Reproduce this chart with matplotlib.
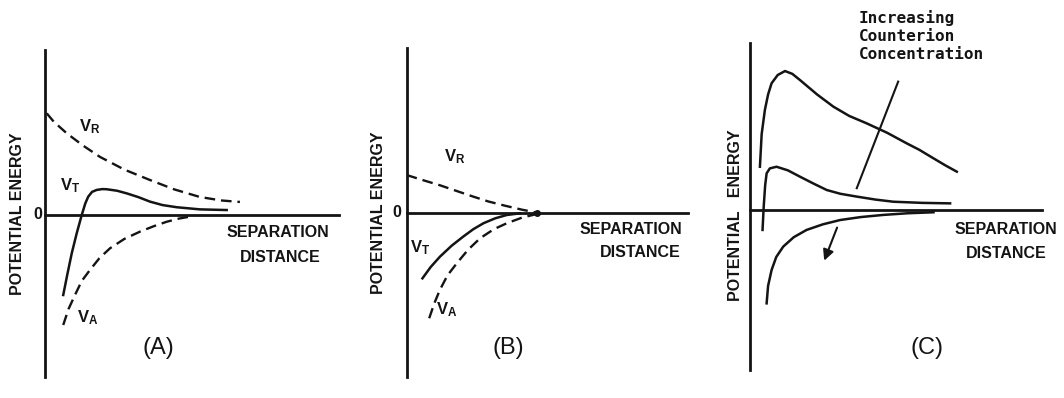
import matplotlib.pyplot as plt

plt.rcParams['font.family'] = ['Liberation Sans', 'DejaVu Sans']
plt.rcParams['mathtext.fontset'] = 'custom'
plt.rcParams['mathtext.rm'] = 'Liberation Sans:bold'
plt.rcParams['mathtext.it'] = 'Liberation Sans:bold'
plt.rcParams['mathtext.bf'] = 'Liberation Sans:bold'

INK = '#141414'

# --- panel A: repulsion, attraction and total energy ---
a_vr_x = [0.006, 0.03, 0.074, 0.13, 0.187, 0.27, 0.357, 0.44, 0.527, 0.60, 0.663]
a_vr_y = [0.616, 0.565, 0.495, 0.42, 0.352, 0.275, 0.212, 0.155, 0.109, 0.088, 0.079]

a_vt_x = [0.062, 0.076, 0.091, 0.108, 0.125, 0.137, 0.147, 0.160, 0.176, 0.195, 0.210, 0.245,
          0.278, 0.318, 0.357, 0.40, 0.448, 0.527, 0.618]
a_vt_y = [-0.485, -0.36, -0.232, -0.11, 0.0, 0.07, 0.111, 0.140, 0.152, 0.157, 0.156, 0.147,
          0.131, 0.108, 0.081, 0.060, 0.047, 0.034, 0.030]

a_va_x = [0.062, 0.08, 0.102, 0.125, 0.153, 0.185, 0.221, 0.27, 0.323, 0.37, 0.414, 0.455, 0.493]
a_va_y = [-0.667, -0.57, -0.485, -0.40, -0.333, -0.262, -0.202, -0.145, -0.101, -0.068, -0.041, -0.022, -0.010]

# --- panel B: no energy barrier ---
b_vr_x = [0.0, 0.06, 0.12, 0.18, 0.237, 0.29, 0.35, 0.41, 0.463]
b_vr_y = [0.228, 0.196, 0.165, 0.130, 0.097, 0.068, 0.042, 0.018, 0.0]

b_vt_x = [0.056, 0.085, 0.118, 0.16, 0.201, 0.237, 0.273, 0.315, 0.356, 0.403]
b_vt_y = [-0.398, -0.33, -0.267, -0.20, -0.145, -0.100, -0.064, -0.034, -0.014, -0.004]

b_va_x = [0.080, 0.098, 0.118, 0.145, 0.178, 0.218, 0.261, 0.31, 0.356, 0.41, 0.463]
b_va_y = [-0.640, -0.55, -0.468, -0.38, -0.307, -0.225, -0.155, -0.100, -0.064, -0.030, -0.008]

# --- panel C: effect of counterion concentration ---
c_low_x = [0.034, 0.040, 0.051, 0.062, 0.074, 0.095, 0.120, 0.145, 0.171, 0.23, 0.286, 0.34,
           0.400, 0.47, 0.537, 0.58, 0.629, 0.67, 0.709]
c_low_y = [0.262, 0.46, 0.606, 0.70, 0.768, 0.818, 0.842, 0.825, 0.788, 0.70, 0.626, 0.570,
           0.525, 0.468, 0.404, 0.365, 0.313, 0.270, 0.232]

c_mid_x = [0.043, 0.047, 0.052, 0.057, 0.068, 0.091, 0.13, 0.171, 0.22, 0.263, 0.31, 0.366,
           0.43, 0.491, 0.59, 0.686]
c_mid_y = [-0.121, 0.02, 0.15, 0.222, 0.252, 0.262, 0.240, 0.202, 0.158, 0.121, 0.098, 0.081,
           0.063, 0.050, 0.043, 0.040]

c_high_x = [0.057, 0.062, 0.074, 0.09, 0.114, 0.15, 0.194, 0.25, 0.309, 0.38, 0.457, 0.54, 0.629]
c_high_y = [-0.566, -0.46, -0.364, -0.285, -0.222, -0.165, -0.121, -0.087, -0.061, -0.043, -0.030, -0.020, -0.014]

c_pointer_x = [0.508, 0.366]
c_pointer_y = [0.778, 0.132]
c_arrow_from = (0.302, -0.091)
c_arrow_to = (0.251, -0.323)

note_lines = ['Increasing', 'Counterion', 'Concentration']

W, H = 1064, 398
fig = plt.figure(figsize=(W / 100, H / 100), dpi=100)


def make_panel(left, top, right, bottom, ymin, ymax):
    ax = fig.add_axes([left / W, 1 - bottom / H, (right - left) / W, (bottom - top) / H])
    ax.set_xlim(0, 1)
    ax.set_ylim(ymin, ymax)
    for s in ['top', 'right']:
        ax.spines[s].set_visible(False)
    ax.spines['left'].set_position(('data', 0))
    ax.spines['bottom'].set_position(('data', 0))
    for s in ['left', 'bottom']:
        ax.spines[s].set_linewidth(2.0)
        ax.spines[s].set_color(INK)
    ax.set_xticks([])
    ax.set_yticks([])
    ax.patch.set_alpha(0)
    return ax


dash = (0, (4.5, 2.5))
lab = dict(fontsize=11.5, fontweight='bold', color=INK, ha='center', va='center')
vlab = dict(fontsize=12, color=INK, ha='center', va='center')
plab = dict(fontsize=17, color=INK, ha='center', va='center')

# panel A
ax = make_panel(45, 50, 339, 377, -0.982, 1.0)
ax.plot(a_vr_x, a_vr_y, color=INK, lw=1.7, linestyle=dash)
ax.plot(a_vt_x, a_vt_y, color=INK, lw=1.8, solid_joinstyle='round')
ax.plot(a_va_x, a_va_y, color=INK, lw=1.7, linestyle=dash)
ax.text(-0.026, 0.0, '0', **lab)
ax.text(-0.092, 0.006, 'POTENTIAL ENERGY', rotation=90, **lab)
ax.text(0.153, 0.533, r'$\mathrm{V_R}$', **vlab)
ax.text(0.085, 0.18, r'$\mathrm{V_T}$', **vlab)
ax.text(0.146, -0.624, r'$\mathrm{V_A}$', **vlab)
ax.text(0.793, -0.109, 'SEPARATION', **lab)
ax.text(0.80, -0.255, 'DISTANCE', **lab)
ax.text(0.384, -0.806, '(A)', **plab)

# panel B
ax = make_panel(406.7, 48, 688, 377, -0.996, 0.998)
ax.plot(b_vr_x, b_vr_y, color=INK, lw=1.7, linestyle=dash)
ax.plot(b_vt_x, b_vt_y, color=INK, lw=1.8, solid_joinstyle='round')
ax.plot(b_va_x, b_va_y, color=INK, lw=1.7, linestyle=dash)
ax.plot([b_vr_x[-1]], [b_vr_y[-1]], 'o', color=INK, ms=4)
ax.text(-0.036, 0.0, '0', **lab)
ax.text(-0.102, 0.0, 'POTENTIAL ENERGY', rotation=90, **lab)
ax.text(0.172, 0.338, r'$\mathrm{V_R}$', **vlab)
ax.text(0.047, -0.214, r'$\mathrm{V_T}$', **vlab)
ax.text(0.143, -0.590, r'$\mathrm{V_A}$', **vlab)
ax.text(0.796, -0.105, 'SEPARATION', **lab)
ax.text(0.829, -0.244, 'DISTANCE', **lab)
ax.text(0.360, -0.820, '(B)', **plab)

# panel C
ax = make_panel(750, 43, 1041.7, 370, -0.970, 1.012)
ax.plot(c_low_x, c_low_y, color=INK, lw=1.8, solid_joinstyle='round')
ax.plot(c_mid_x, c_mid_y, color=INK, lw=1.8, solid_joinstyle='round')
ax.plot(c_high_x, c_high_y, color=INK, lw=1.8, solid_joinstyle='round')
ax.plot(c_pointer_x, c_pointer_y, color=INK, lw=1.5)
ax.annotate('', xy=c_arrow_to, xytext=c_arrow_from,
            arrowprops=dict(arrowstyle='-|>', color=INK, lw=1.5, mutation_scale=16))
ax.text(-0.051, -0.03, 'POTENTIAL   ENERGY', rotation=90, **lab)
ax.text(0.877, -0.121, 'SEPARATION', clip_on=False, **lab)
ax.text(0.880, -0.262, 'DISTANCE', clip_on=False, **lab)
for i, line in enumerate(note_lines):
    ax.text(0.372, 1.164 - 0.112 * i, line, fontsize=11.5, fontweight='bold',
            family='DejaVu Sans Mono', color=INK, ha='left', va='center')
ax.text(0.607, -0.836, '(C)', **plab)

fig.savefig('out.png', dpi=100)
